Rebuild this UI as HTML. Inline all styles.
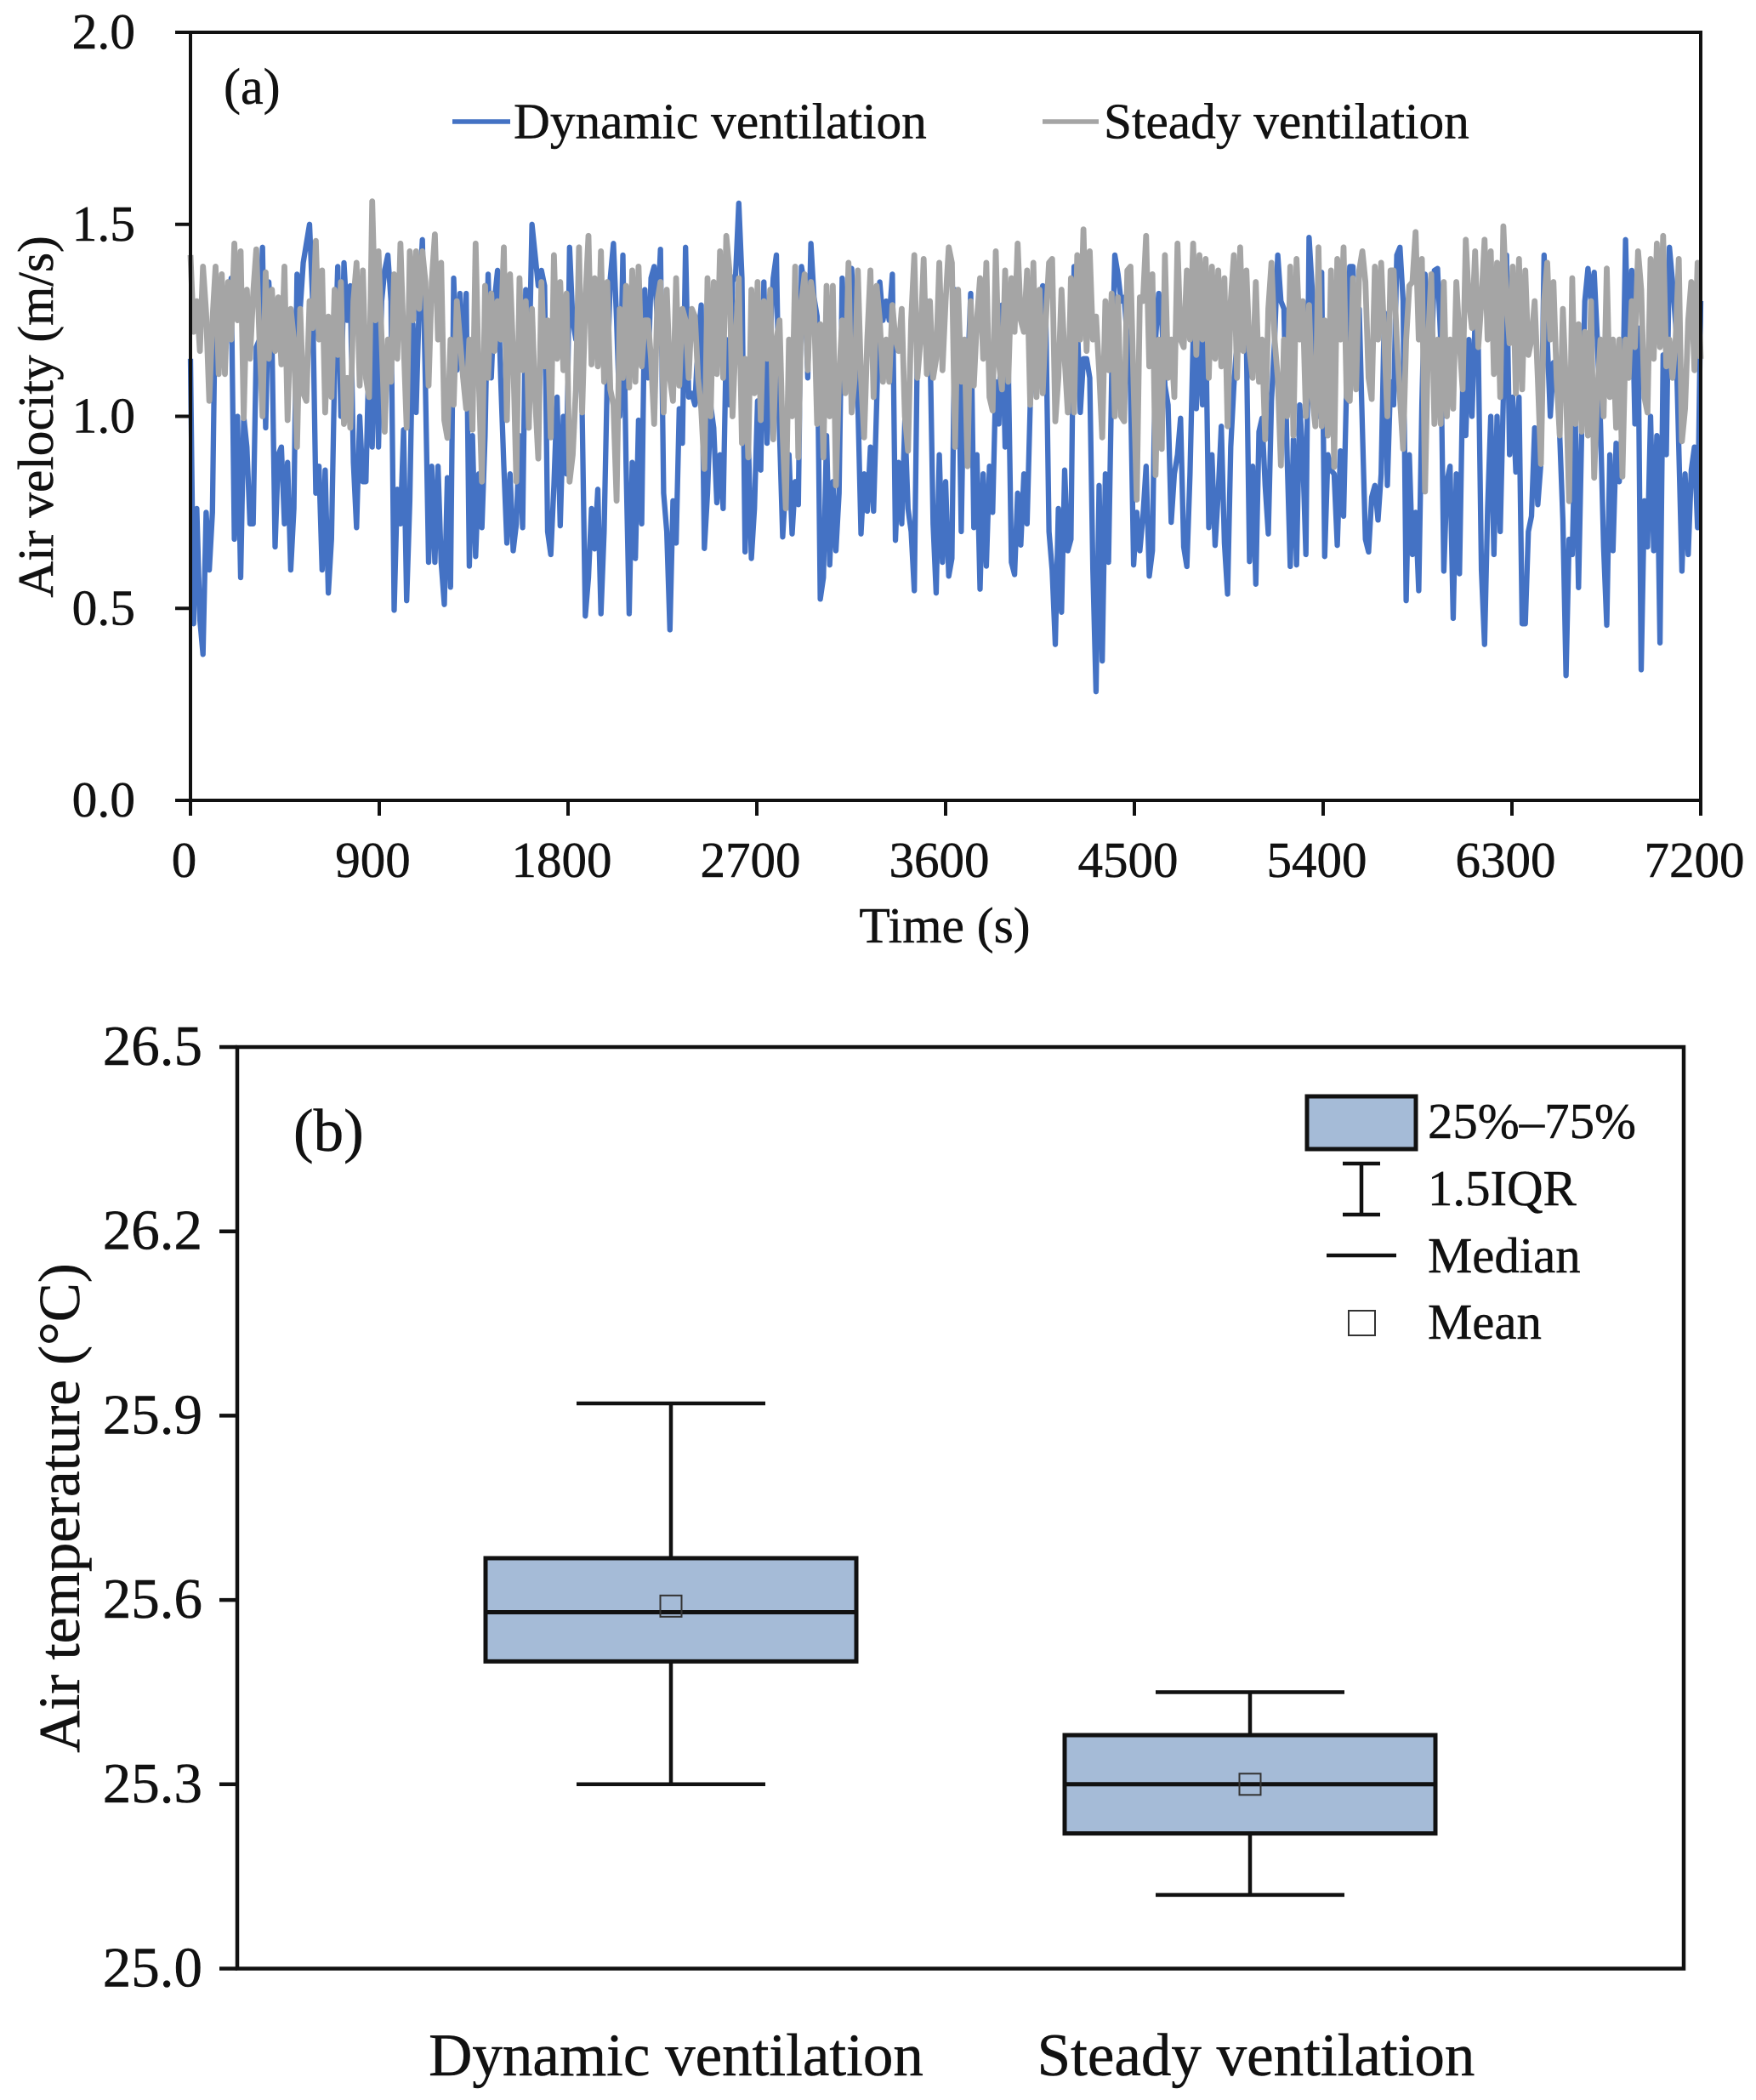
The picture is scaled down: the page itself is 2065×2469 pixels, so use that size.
<!DOCTYPE html>
<html lang="en">
<head>
<meta charset="utf-8">
<title>Air velocity and air temperature under dynamic and steady ventilation</title>
<style>
html,body{margin:0;padding:0;background:#fff;}
svg{display:block;}
text{font-family:"Liberation Serif",serif;fill:#111;stroke:#111;stroke-width:.5px;}
</style>
</head>
<body>
<svg id="figure" xmlns="http://www.w3.org/2000/svg" width="2065" height="2469" viewBox="0 0 2065 2469">
  <g id="panel-a">
    <text x="263" y="122" font-size="60">(a)</text>
    <text x="1111" y="1108" font-size="59.5" text-anchor="middle">Time (s)</text>
    <text transform="translate(62,490) rotate(-90)" font-size="59.4" text-anchor="middle">Air velocity (m/s)</text>
    <line x1="532" x2="600" y1="143" y2="143" stroke="#4472C4" stroke-width="5.5"/>
    <text x="604" y="162.5" font-size="59.3">Dynamic ventilation</text>
    <line x1="1226" x2="1292" y1="143" y2="143" stroke="#A5A5A5" stroke-width="5.5"/>
    <text x="1298" y="162.5" font-size="59.3">Steady ventilation</text>
  </g>
  <g id="panel-b">
    <text x="345" y="1353" font-size="71">(b)</text>
    <text transform="translate(93,1773) rotate(-90)" font-size="69" text-anchor="middle">Air temperature (°C)</text>
    <rect x="1537" y="1289" width="128" height="62" fill="#A5BBD7" stroke="#111" stroke-width="5"/>
    <text x="1679" y="1338" font-size="58.8">25%–75%</text>
    <path d="M1579 1368H1623M1601 1368V1428M1579 1428H1623" fill="none" stroke="#111" stroke-width="4.5"/>
    <text x="1679" y="1417" font-size="58.8">1.5IQR</text>
    <line x1="1560" x2="1642" y1="1476" y2="1476" stroke="#111" stroke-width="4.5"/>
    <text x="1679" y="1496" font-size="58.8">Median</text>
    <rect x="1586" y="1541" width="31" height="29" fill="#fff" stroke="#333" stroke-width="2"/>
    <text x="1679" y="1574" font-size="58.8">Mean</text>
  </g>
</svg>
<script>
var velocityTicks = ["0.0", "0.5", "1.0", "1.5", "2.0"];
var timeTicks = ["0", "900", "1800", "2700", "3600", "4500", "5400", "6300", "7200"];
var dynamicVelocity = [
1.15,.46,.76,.47,.38,.75,.60,.75,1.36,1.25,1.30,1.15,1.25,1.36,.68,1.0,.58,1.0,.92,.72,.72,1.18,1.2,1.44,.97,1.35,1.2,.66,.90,.92,.72,.88,.60,.76,1.37,1.28,1.40,1.45,1.50,1.30,.80,.87,.60,.86,.54,.68,1.12,1.39,1.0,1.40,1.25,1.34,.88,.71,1.0,.83,.83,1.18,.92,1.34,.92,
1.30,1.38,1.42,1.30,.495,.81,.72,.965,.52,.78,1.24,1.01,1.30,1.46,1.08,.62,.87,.62,.87,.62,.51,.84,.555,1.36,1.12,1.32,1.10,1.32,.61,.95,.635,.85,.71,.95,1.37,1.1,1.30,1.38,1.1,.87,.67,.85,.65,.72,.95,.71,1.33,1.1,1.50,1.42,1.34,1.38,1.34,.70,.64,.82,1.05,.715,1.0,.85,1.44,
1.25,1.2,1.3,1.01,.48,.58,.76,.655,.81,.486,.70,1.1,1.36,1.45,1.25,1.0,1.42,.88,.486,.88,.63,.99,.72,1.33,1.1,1.36,1.39,1.25,1.435,.80,.70,.444,.78,.67,1.02,.93,1.44,1.05,1.06,1.03,1.2,1.29,.656,.80,1.03,.97,.775,.90,.76,1.2,1.03,1.35,1.37,1.555,1.36,.647,.95,.63,.76,1.04,
.86,1.35,.93,1.2,1.36,1.42,.96,.686,.83,.90,.694,.83,.77,1.39,1.34,1.1,1.45,1.31,1.26,.524,.58,.95,.613,.83,.65,.80,1.36,1.14,1.2,1.385,1.2,1.04,.694,.85,.753,.92,.753,1.03,1.35,1.25,1.30,1.25,1.37,.677,.88,.72,.99,.76,.70,.546,1.19,1.21,1.25,1.3,1.2,.72,.54,.90,.62,.83,.584,
.63,1.33,1.25,.70,1.2,1.1,1.32,.71,.90,.55,.85,.61,.87,.75,1.09,.98,1.29,.92,1.14,.62,.588,.80,.665,.85,.72,1.03,1.2,1.25,1.3,1.34,1.25,.70,.60,.406,.76,.49,.86,.65,.68,1.39,1.25,1.01,1.15,1.15,1.10,.60,.283,.82,.363,.85,.62,1.10,1.42,1.37,1.3,1.31,1.2,1.08,.613,.75,.65,
.74,.87,.584,.65,1.20,1.32,1.25,1.08,1.03,.724,.85,.90,.995,.66,.609,.85,1.2,1.02,1.25,1.03,1.25,.71,.90,.664,.80,.974,.67,.537,.92,1.08,1.2,1.21,1.18,1.2,.622,.87,.563,.96,.995,.82,.694,1.04,1.2,1.42,1.30,1.28,.90,.609,.94,.613,1.03,.90,.64,1.466,1.33,1.05,1.0,1.375,.635,.90,.86,
.85,.664,.91,.74,1.09,1.39,1.39,1.12,1.28,.97,.68,.647,.79,.82,.73,.85,1.27,.82,1.09,1.03,1.42,1.44,1.3,.52,.90,.64,.75,.546,1.03,1.37,1.2,1.14,1.38,1.385,1.2,.597,.83,.87,.474,.85,.59,1.07,.95,1.2,1.0,1.25,1.18,.60,.406,.76,1.0,.64,1.0,.70,1.05,1.42,.90,1.05,.855,1.05,.46,
.46,.70,.74,.97,.77,.88,1.42,1.2,1.0,1.14,1.12,.95,.73,.325,.68,.64,.98,.554,.96,1.3,1.385,1.3,1.375,1.2,.98,.66,.456,.90,.65,.93,.83,1.0,1.46,1.1,1.38,.98,1.23,.34,.78,.66,1.0,.65,.95,.41,1.16,.90,1.44,1.35,1.24,.92,.597,.85,.64,.86,.92,.71,1.3
];
var steadyVelocity = [
1.42,1.22,1.30,1.17,1.39,1.27,1.04,1.25,1.39,1.11,1.37,1.11,1.35,1.20,1.45,1.25,1.43,.995,1.33,1.15,1.32,1.435,1.20,1.0,1.375,1.15,1.33,1.17,1.31,1.135,1.39,.99,1.28,1.2,.92,1.28,1.06,1.04,1.30,1.23,1.457,1.2,1.38,1.01,1.26,1.05,1.33,1.16,1.35,.98,1.10,.97,1.30,1.40,1.08,1.38,1.10,1.05,1.56,1.25,1.43,
1.20,.96,1.2,1.09,1.37,1.15,1.45,1.2,.97,1.43,1.25,1.43,1.28,1.43,1.35,1.08,1.35,1.474,1.2,1.40,.99,.944,1.2,1.03,1.30,1.2,1.1,1.02,1.2,.965,1.45,1.1,.83,1.34,1.10,1.32,1.17,1.30,1.2,1.44,.99,1.37,1.16,.83,1.36,1.12,1.3,.97,1.28,1.05,.89,1.35,1.13,1.25,.945,1.42,1.15,1.35,1.12,1.32,.83,
.90,1.07,1.44,1.01,1.3,1.47,1.135,1.36,1.13,1.43,1.09,1.35,1.07,1.03,.78,1.28,1.1,1.34,1.075,1.38,1.09,1.39,1.13,1.25,1.25,1.15,.98,1.3,1.35,1.01,1.33,1.1,1.04,1.36,1.08,1.28,1.25,1.1,1.28,1.26,1.1,1.02,.863,1.36,1.0,1.35,1.11,1.43,1.1,1.47,1.38,1.0,1.2,1.36,.93,1.15,.893,1.33,1.06,1.35,
.99,1.3,1.15,1.33,.94,1.2,1.25,.95,.76,1.2,1.0,1.39,.893,1.3,1.37,1.12,1.35,1.3,.98,1.24,.893,1.34,1.0,1.34,.82,1.1,1.25,1.06,1.40,1.01,1.1,1.38,1.1,.945,1.2,1.38,1.05,1.34,1.25,1.09,1.2,1.09,1.29,1.2,1.17,1.28,1.0,.91,1.25,1.42,1.1,1.2,1.41,1.11,1.3,1.1,1.15,1.40,1.12,1.3,1.44,
1.4,.92,1.33,1.09,1.2,.87,1.3,1.08,1.25,1.36,1.15,1.40,1.05,1.015,1.43,1.14,1.07,1.38,1.09,1.36,1.22,1.45,1.25,1.22,1.38,1.03,1.40,1.05,1.33,1.06,1.25,1.4,1.41,.987,1.1,1.33,1.15,1.01,1.36,1.01,1.42,1.2,1.487,1.17,1.43,1.2,1.26,1.12,.945,1.3,1.12,1.32,1.0,1.31,1.0,.987,1.38,1.39,1.08,.783,1.31,
1.3,1.47,1.13,1.37,.847,1.2,.915,1.42,1.1,1.2,1.05,1.45,1.2,1.18,1.38,1.2,1.45,1.16,1.42,1.2,1.41,1.1,1.39,1.15,1.38,1.13,1.36,.974,1.3,1.42,1.1,1.44,1.17,1.38,1.17,1.1,1.35,1.09,1.2,.94,1.28,1.4,1.2,1.1,.872,1.2,1.0,1.39,.95,1.41,1.2,1.3,1.0,1.29,1.05,.974,1.44,.974,1.25,.95,1.38,
.868,1.41,1.2,1.44,1.05,1.04,1.36,1.07,1.38,1.43,1.35,1.1,1.045,1.39,1.2,1.4,1.2,1.0,1.38,1.38,1.2,1.05,.915,1.2,1.34,1.35,1.48,1.2,1.41,.804,1.2,1.37,.98,1.2,.98,1.35,1.0,1.2,1.02,1.35,1.2,1.07,1.46,1.3,1.23,1.43,1.18,1.3,1.46,1.2,1.43,1.11,1.4,1.05,1.495,1.3,1.19,1.39,1.06,1.41,1.07,
1.38,1.16,1.2,1.3,1.1,.876,1.30,1.40,1.2,1.35,1.10,.95,1.28,1.07,.779,1.36,.98,1.24,.96,1.22,.95,1.3,.84,1.06,1.2,1.0,1.385,1.05,1.2,.97,1.2,.843,1.2,1.1,1.3,1.18,1.43,1.33,1.05,1.01,1.41,1.15,1.45,1.18,1.47,1.13,1.2,1.1,1.2,1.41,.935,1.02,1.25,1.35,1.12,1.4,1.15
];
var temperatureTicks = ["25.0", "25.3", "25.6", "25.9", "26.2", "26.5"];
var boxCategories = ["Dynamic ventilation", "Steady ventilation"];
var whiskerHigh = [25.92, 25.45];
var boxQ3 = [25.668, 25.38];
var boxMedian = [25.58, 25.30];
var boxMean = [25.59, 25.30];
var boxQ1 = [25.50, 25.22];
var whiskerLow = [25.30, 25.12];

var SVG_NS = "http://www.w3.org/2000/svg";
var panelA = document.getElementById("panel-a");
var panelB = document.getElementById("panel-b");

function make(tag, parent, attrs, content) {
  var el = document.createElementNS(SVG_NS, tag);
  for (var key in attrs) { el.setAttribute(key, attrs[key]); }
  if (content !== undefined) { el.textContent = content; }
  parent.appendChild(el);
  return el;
}

/* Panel (a) axes */
var aLeft = 224, aRight = 2000, aTop = 38, aBottom = 941;
function aX(t) { return aLeft + (t / 7200) * (aRight - aLeft); }
function aY(v) { return aBottom - (v / 2) * (aBottom - aTop); }

function seriesPoints(values) {
  var step = 7200 / (values.length - 1);
  return values.map(function (v, i) {
    return aX(i * step).toFixed(1) + "," + aY(v).toFixed(1);
  }).join(" ");
}

var dynamicLine = make("polyline", panelA, {points: seriesPoints(dynamicVelocity), fill: "none", stroke: "#4472C4", "stroke-width": 6.3, "stroke-linejoin": "round"});


var steadyLine = make("polyline", panelA, {points: seriesPoints(steadyVelocity), fill: "none", stroke: "#A5A5A5", "stroke-width": 6.8, "stroke-linejoin": "round"});



var aFrame = make("rect", panelA, {x: aLeft, y: aTop, width: aRight - aLeft, height: aBottom - aTop, fill: "none", stroke: "#111", "stroke-width": 4});



velocityTicks.forEach(function (label) {
  var y = aY(parseFloat(label));
  var tick = make("line", panelA, {x1: aLeft - 18, x2: aLeft, y1: y, y2: y, stroke: "#111", "stroke-width": 4});
  
  
  var text = make("text", panelA, {x: 159, y: y + 19, "font-size": 59.5, "text-anchor": "end"}, label);
  
  
});

timeTicks.forEach(function (label) {
  var x = aX(parseFloat(label));
  var tick = make("line", panelA, {x1: x, x2: x, y1: aBottom, y2: aBottom + 18, stroke: "#111", "stroke-width": 4});
  
  
  var text = make("text", panelA, {x: x - 7.5, y: 1031, "font-size": 59, "text-anchor": "middle"}, label);
  
  
});

/* Panel (b) axes */
var bLeft = 279, bRight = 1980, bTop = 1231, bBottom = 2314.5;
var boxCenters = [789, 1470];
var boxHalfWidth = 218, capHalfWidth = 111;
function bY(v) { return bBottom - ((v - 25) / 1.5) * (bBottom - bTop); }

var bFrame = make("rect", panelB, {x: bLeft, y: bTop, width: bRight - bLeft, height: bBottom - bTop, fill: "none", stroke: "#111", "stroke-width": 4.5});



temperatureTicks.forEach(function (label) {
  var y = bY(parseFloat(label));
  var tick = make("line", panelB, {x1: bLeft - 21, x2: bLeft, y1: y, y2: y, stroke: "#111", "stroke-width": 4.5});
  
  
  var text = make("text", panelB, {x: 238, y: y + 21, "font-size": 67, "text-anchor": "end"}, label);
  
  
});

boxCategories.forEach(function (name, i) {
  var cx = boxCenters[i];
  var stem = make("line", panelB, {x1: cx, x2: cx, y1: bY(whiskerHigh[i]), y2: bY(whiskerLow[i]), stroke: "#111", "stroke-width": 4.5});
  
  
  var capHigh = make("line", panelB, {x1: cx - capHalfWidth, x2: cx + capHalfWidth, y1: bY(whiskerHigh[i]), y2: bY(whiskerHigh[i]), stroke: "#111", "stroke-width": 4.5});
  
  
  var capLow = make("line", panelB, {x1: cx - capHalfWidth, x2: cx + capHalfWidth, y1: bY(whiskerLow[i]), y2: bY(whiskerLow[i]), stroke: "#111", "stroke-width": 4.5});
  
  
  var box = make("rect", panelB, {x: cx - boxHalfWidth, y: bY(boxQ3[i]), width: boxHalfWidth * 2, height: bY(boxQ1[i]) - bY(boxQ3[i]), fill: "#A5BBD7", stroke: "#111", "stroke-width": 5});
  
  
  var median = make("line", panelB, {x1: cx - boxHalfWidth, x2: cx + boxHalfWidth, y1: bY(boxMedian[i]), y2: bY(boxMedian[i]), stroke: "#111", "stroke-width": 5});
  
  
  var mean = make("rect", panelB, {x: cx - 12.5, y: bY(boxMean[i]) - 12.5, width: 25, height: 25, fill: "none", stroke: "#333", "stroke-width": 2});
  
  
  var label = make("text", panelB, {x: [795, 1477][i], y: 2440, "font-size": 71, "text-anchor": "middle"}, name);
  
  
});
</script>
</body>
</html>
